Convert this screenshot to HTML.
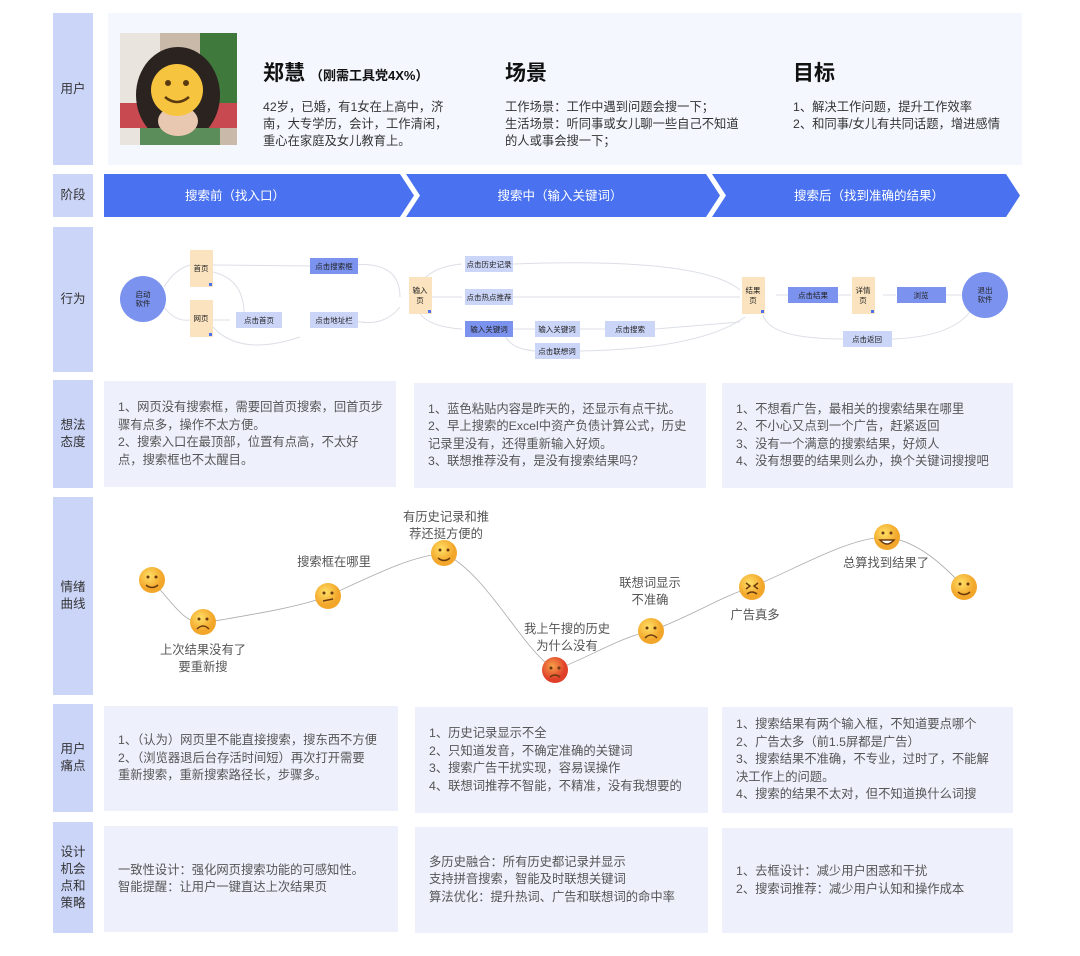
<!DOCTYPE html>
<html><head><meta charset="utf-8"><style>
*{margin:0;padding:0;box-sizing:border-box}
body{width:1080px;height:956px;background:#fff;position:relative;overflow:hidden;font-family:"Liberation Sans","Noto Sans CJK SC",sans-serif;color:#444}
.a{position:absolute}
.lab{position:absolute;left:53px;width:40px;background:#cbd5f8;display:flex;align-items:center;justify-content:center;text-align:center;font-size:12.5px;color:#333;line-height:17px}
.card{position:absolute;background:#eef1fc;font-size:12.3px;line-height:17.5px;color:#555;padding-left:14px;display:flex;flex-direction:column;justify-content:center}
.h{position:absolute;font-size:21px;font-weight:bold;color:#111}
.t{position:absolute;font-size:12.3px;line-height:17px;color:#333}
</style></head><body>
<div class="lab" style="top:13px;height:152px">用户</div>
<div class="lab" style="top:174px;height:43px">阶段</div>
<div class="lab" style="top:227px;height:145px">行为</div>
<div class="lab" style="top:380px;height:108px">想法<br>态度</div>
<div class="lab" style="top:497px;height:198px">情绪<br>曲线</div>
<div class="lab" style="top:704px;height:108px">用户<br>痛点</div>
<div class="lab" style="top:822px;height:111px">设计<br>机会<br>点和<br>策略</div>

<div class="a" style="left:108px;top:13px;width:914px;height:152px;background:#f4f7fe"></div>
<svg class="a" style="left:120px;top:33px" width="117" height="112">
<rect width="117" height="112" fill="#c8b9a8"/><rect x="0" y="0" width="40" height="112" fill="#e9e4de"/>
<rect x="80" y="0" width="37" height="70" fill="#3f7a3c"/><rect x="0" y="70" width="117" height="25" fill="#c84a50"/>
<ellipse cx="58" cy="62" rx="42" ry="48" fill="#2a2320"/><rect x="20" y="95" width="80" height="17" fill="#5a8d5a"/>
<ellipse cx="58" cy="88" rx="20" ry="15" fill="#e8c8b0"/>
<circle cx="57" cy="57" r="26" fill="#f7c440"/><circle cx="48" cy="50" r="3" fill="#5a3a10"/><circle cx="66" cy="50" r="3" fill="#5a3a10"/>
<path d="M45 64 Q57 74 69 64" stroke="#5a3a10" stroke-width="2.5" fill="none"/></svg>
<div class="h" style="left:263px;top:57px">郑慧<span style="font-size:13px;margin-left:5px">（刚需工具党4X%）</span></div>
<div class="t" style="left:263px;top:99px">42岁，已婚，有1女在上高中，济<br>南，大专学历，会计，工作清闲，<br>重心在家庭及女儿教育上。</div>
<div class="h" style="left:505px;top:57px">场景</div>
<div class="t" style="left:505px;top:99px">工作场景：工作中遇到问题会搜一下；<br>生活场景：听同事或女儿聊一些自己不知道<br>的人或事会搜一下；</div>
<div class="h" style="left:793px;top:57px">目标</div>
<div class="t" style="left:793px;top:99px">1、解决工作问题，提升工作效率<br>2、和同事/女儿有共同话题，增进感情</div>

<svg class="a" style="left:0;top:174px" width="1080" height="44">
<polygon points="104,0 400,0 414,21.5 400,43 104,43" fill="#4a72f0"/>
<polygon points="406,0 706,0 720,21.5 706,43 406,43 420,21.5" fill="#4a72f0"/>
<polygon points="712,0 1006,0 1020,21.5 1006,43 712,43 726,21.5" fill="#4a72f0"/>
<g fill="#fff" font-size="12.5" text-anchor="middle"><text x="235" y="26">搜索前（找入口）</text><text x="560" y="26">搜索中（输入关键词）</text><text x="869" y="26">搜索后（找到准确的结果）</text></g>
</svg>

<svg class="a" style="left:0;top:227px" width="1080" height="145" font-size="7.5" text-anchor="middle">
<g stroke="#dcdfe6" stroke-width="1" fill="none">
<path d="M164 60 Q175 42 190 38"/><path d="M164 80 Q175 95 190 93"/>
<path d="M213 38 L310 39"/><path d="M213 93 L230 93"/><path d="M244 85 Q243 52 213 45"/>
<path d="M213 100 Q240 130 300 110"/><path d="M342 39 Q400 30 400 70"/><path d="M342 90 Q380 105 400 80"/>
<path d="M419 60 Q428 40 462 37"/><path d="M432 70 L462 70"/><path d="M419 85 Q428 100 462 102"/>
<path d="M513 37 Q700 30 740 63"/><path d="M513 70 L740 70"/>
<path d="M513 102 L535 102"/><path d="M580 102 L605 102"/><path d="M655 102 L740 95"/>
<path d="M505 108 Q510 122 535 124"/><path d="M580 124 Q700 122 745 90"/>
<path d="M776 68 L788 68"/><path d="M838 68 L851 68"/><path d="M883 68 L896 68"/><path d="M946 68 L962 68"/>
<path d="M970 85 Q950 110 892 112"/><path d="M843 112 Q770 112 763 88"/>
</g>
<circle cx="143" cy="72" r="23" fill="#7b93ef"/><text x="143" y="70" fill="#222">启动</text><text x="143" y="79" fill="#222">软件</text>
<circle cx="985" cy="68" r="23" fill="#7b93ef"/><text x="985" y="66" fill="#222">退出</text><text x="985" y="75" fill="#222">软件</text>
<g fill="#fbe3bf"><rect x="190" y="23" width="23" height="37"/><rect x="190" y="73" width="23" height="37"/><rect x="409" y="50" width="23" height="37"/><rect x="742" y="50" width="23" height="37"/><rect x="852" y="50" width="23" height="37"/></g>
<g fill="#4a72f0"><rect x="209" y="56" width="3" height="3"/><rect x="209" y="106" width="3" height="3"/><rect x="428" y="83" width="3" height="3"/><rect x="761" y="83" width="3" height="3"/><rect x="871" y="83" width="3" height="3"/></g>
<g fill="#7b93ef"><rect x="310" y="31" width="48" height="16"/><rect x="465" y="94" width="48" height="16"/><rect x="788" y="60" width="50" height="16"/><rect x="897" y="60" width="49" height="16"/></g>
<g fill="#cbd5f8"><rect x="236" y="85" width="46" height="16"/><rect x="310" y="85" width="48" height="16"/><rect x="465" y="29" width="48" height="16"/><rect x="465" y="62" width="48" height="16"/><rect x="535" y="94" width="45" height="16"/><rect x="605" y="94" width="50" height="16"/><rect x="535" y="116" width="45" height="16"/><rect x="843" y="104" width="49" height="16"/></g>
<g fill="#222"><text x="201" y="44">首页</text><text x="201" y="94">网页</text><text x="420" y="66">输入</text><text x="420" y="76">页</text><text x="753" y="66">结果</text><text x="753" y="76">页</text><text x="863" y="66">详情</text><text x="863" y="76">页</text>
<text x="334" y="42">点击搜索框</text><text x="259" y="96">点击首页</text><text x="334" y="96">点击地址栏</text><text x="489" y="40">点击历史记录</text><text x="489" y="73">点击热点推荐</text><text x="489" y="105">输入关键词</text><text x="557" y="105">输入关键词</text><text x="630" y="105">点击搜索</text><text x="557" y="127">点击联想词</text><text x="813" y="71">点击结果</text><text x="921" y="71">浏览</text><text x="867" y="115">点击返回</text></g>
</svg>

<div class="card" style="left:104px;top:381px;width:292px;height:106px">1、网页没有搜索框，需要回首页搜索，回首页步<br>骤有点多，操作不太方便。<br>2、搜索入口在最顶部，位置有点高，不太好<br>点，搜索框也不太醒目。</div>
<div class="card" style="left:414px;top:383px;width:292px;height:105px">1、蓝色粘贴内容是昨天的，还显示有点干扰。<br>2、早上搜索的Excel中资产负债计算公式，历史<br>记录里没有，还得重新输入好烦。<br>3、联想推荐没有，是没有搜索结果吗？</div>
<div class="card" style="left:722px;top:383px;width:291px;height:105px">1、不想看广告，最相关的搜索结果在哪里<br>2、不小心又点到一个广告，赶紧返回<br>3、没有一个满意的搜索结果，好烦人<br>4、没有想要的结果则么办，换个关键词搜搜吧</div>

<svg class="a" style="left:0;top:497px" width="1080" height="198" font-size="12.3" fill="#555" text-anchor="middle">
<path d="M152 83 C175 110 185 126 203 126 C250 118 300 110 328 99 C380 75 410 60 444 56 C490 80 520 150 555 173 C590 160 620 140 651 134 C690 120 720 100 752 90 C800 70 850 40 887 40 C920 45 945 70 964 90" stroke="#aaa" stroke-width="0.8" fill="none"/>
<defs><radialGradient id="g" cx="40%" cy="35%"><stop offset="0" stop-color="#ffe066"/><stop offset="1" stop-color="#f2a62a"/></radialGradient><radialGradient id="r" cx="40%" cy="35%"><stop offset="0" stop-color="#f6a04a"/><stop offset="1" stop-color="#e0402a"/></radialGradient></defs>
<g stroke="#6b3a10" stroke-width="1.5" fill="none">
<circle cx="152" cy="83" r="13" fill="url(#g)" stroke="none"/><path d="M146 88 Q152 93 158 88"/>
<circle cx="203" cy="125" r="13" fill="url(#g)" stroke="none"/><path d="M197 132 Q203 126 209 132"/>
<circle cx="328" cy="99" r="13" fill="url(#g)" stroke="none"/><path d="M323 104 L333 102"/>
<circle cx="444" cy="56" r="13" fill="url(#g)" stroke="none"/><path d="M438 61 Q444 66 450 61"/>
<circle cx="555" cy="173" r="13" fill="url(#r)" stroke="none"/><path d="M550 180 Q555 176 560 180"/>
<circle cx="651" cy="134" r="13" fill="url(#g)" stroke="none"/><path d="M645 141 Q651 135 657 141"/>
<circle cx="752" cy="90" r="13" fill="url(#g)" stroke="none"/><path d="M746 86 L750 89 L746 92 M758 86 L754 89 L758 92 M747 97 Q752 93 757 97"/>
<circle cx="887" cy="40" r="13" fill="url(#g)" stroke="none"/><path d="M880 43 Q887 51 894 43 Z" fill="#fff"/>
<circle cx="964" cy="90" r="13" fill="url(#g)" stroke="none"/><path d="M958 95 Q964 100 970 95"/>
</g>
<g fill="#6b3a10"><circle cx="148" cy="80" r="1.5"/><circle cx="156" cy="80" r="1.5"/><circle cx="199" cy="122" r="1.5"/><circle cx="207" cy="122" r="1.5"/><circle cx="324" cy="96" r="1.5"/><circle cx="332" cy="96" r="1.5"/><circle cx="440" cy="53" r="1.5"/><circle cx="448" cy="53" r="1.5"/><circle cx="551" cy="171" r="1.5"/><circle cx="559" cy="171" r="1.5"/><circle cx="647" cy="131" r="1.5"/><circle cx="655" cy="131" r="1.5"/><circle cx="883" cy="36" r="1.5"/><circle cx="891" cy="36" r="1.5"/><circle cx="960" cy="87" r="1.5"/><circle cx="968" cy="87" r="1.5"/></g>
<text x="203" y="157">上次结果没有了</text><text x="203" y="174">要重新搜</text>
<text x="334" y="69">搜索框在哪里</text>
<text x="446" y="24">有历史记录和推</text><text x="446" y="41">荐还挺方便的</text>
<text x="567" y="136">我上午搜的历史</text><text x="567" y="153">为什么没有</text>
<text x="650" y="90">联想词显示</text><text x="650" y="107">不准确</text>
<text x="755" y="122">广告真多</text>
<text x="886" y="70">总算找到结果了</text>
</svg>

<div class="card" style="left:104px;top:706px;width:294px;height:105px">1、（认为）网页里不能直接搜索，搜东西不方便<br>2、（浏览器退后台存活时间短）再次打开需要<br>重新搜索，重新搜索路径长，步骤多。</div>
<div class="card" style="left:415px;top:707px;width:293px;height:106px">1、历史记录显示不全<br>2、只知道发音，不确定准确的关键词<br>3、搜索广告干扰实现，容易误操作<br>4、联想词推荐不智能，不精准，没有我想要的</div>
<div class="card" style="left:722px;top:707px;width:291px;height:106px">1、搜索结果有两个输入框，不知道要点哪个<br>2、广告太多（前1.5屏都是广告）<br>3、搜索结果不准确，不专业，过时了，不能解<br>决工作上的问题。<br>4、搜索的结果不太对，但不知道换什么词搜</div>

<div class="card" style="left:104px;top:826px;width:294px;height:106px">一致性设计：强化网页搜索功能的可感知性。<br>智能提醒：让用户一键直达上次结果页</div>
<div class="card" style="left:415px;top:827px;width:293px;height:106px">多历史融合：所有历史都记录并显示<br>支持拼音搜索，智能及时联想关键词<br>算法优化：提升热词、广告和联想词的命中率</div>
<div class="card" style="left:722px;top:828px;width:291px;height:105px">1、去框设计：减少用户困惑和干扰<br>2、搜索词推荐：减少用户认知和操作成本</div>
</body></html>
